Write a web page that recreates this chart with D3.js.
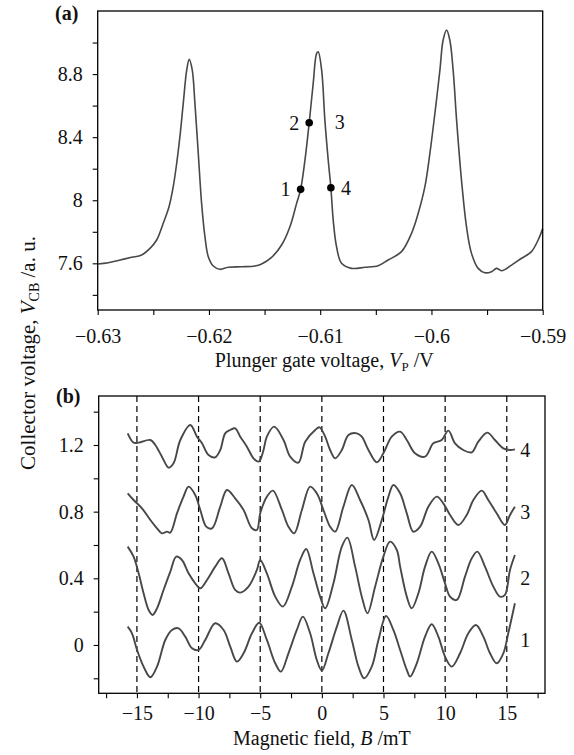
<!DOCTYPE html>
<html><head><meta charset="utf-8">
<script src="https://cdn.jsdelivr.net/npm/d3@7"></script>
<style>
html,body{margin:0;padding:0;background:#fff;}
svg{display:block;}
text{font-family:'Liberation Serif','DejaVu Serif',serif;fill:#111;}
</style>
</head><body>
<svg id="chart" width="574" height="755"></svg>
<script>
// ---------- Panel (a) data: collector voltage vs plunger gate voltage ----------
const gateVoltage = [-0.63000,-0.62905,-0.62800,-0.62695,-0.62605,-0.62530,-0.62470,-0.62411,-0.62359,-0.62321,-0.62290,-0.62261,-0.62231,-0.62200,-0.62177,-0.62150,-0.62126,-0.62096,-0.62066,-0.62036,-0.62006,-0.61961,-0.61901,-0.61827,-0.61706,-0.61587,-0.61527,-0.61437,-0.61347,-0.61272,-0.61212,-0.61176,-0.61137,-0.61099,-0.61063,-0.61032,-0.61018,-0.60987,-0.60958,-0.60928,-0.60904,-0.60883,-0.60853,-0.60808,-0.60718,-0.60598,-0.60479,-0.60389,-0.60269,-0.60179,-0.60119,-0.60059,-0.60014,-0.59969,-0.59924,-0.59895,-0.59864,-0.59835,-0.59805,-0.59774,-0.59730,-0.59685,-0.59640,-0.59580,-0.59520,-0.59460,-0.59415,-0.59370,-0.59280,-0.59190,-0.59101,-0.59041,-0.59000];
const collectorVoltage = [7.596,7.604,7.621,7.638,7.653,7.695,7.748,7.854,7.959,8.086,8.234,8.403,8.614,8.825,8.893,8.825,8.614,8.297,7.980,7.769,7.642,7.583,7.562,7.575,7.578,7.583,7.596,7.638,7.716,7.832,7.980,8.069,8.255,8.491,8.741,8.931,8.941,8.825,8.508,8.255,8.079,7.874,7.705,7.600,7.568,7.575,7.585,7.621,7.674,7.790,7.917,8.086,8.297,8.551,8.825,9.016,9.079,9.016,8.825,8.508,8.128,7.832,7.663,7.568,7.540,7.547,7.568,7.553,7.589,7.632,7.674,7.748,7.820];

// working points marked on the middle peak
const pointIds   = ["1","2","3","4"];
const pointGateV = [-0.61176,-0.61099,-0.60958,-0.60904];
const pointVcb   = [8.069,8.491,8.495,8.079];
const pointDot   = [true,true,false,true];
const pointSide  = ["left","left","right","right"];

// panel (a) ticks
const aXTicks  = [-0.63,-0.625,-0.62,-0.615,-0.61,-0.605,-0.6,-0.595,-0.59];
const aXLabels = [-0.63,-0.62,-0.61,-0.6,-0.59];
const aYTicks  = [7.4,7.6,7.8,8,8.2,8.4,8.6,8.8,9.0];
const aYLabels = [7.6,8,8.4,8.8];

// ---------- Panel (b) data: collector voltage vs magnetic field (offset traces) ----------
const trace1 = [[-15.75,0.11],[-15.40,0.07],[-14.99,-0.03],[-14.46,-0.13],[-13.91,-0.194],[-13.37,-0.13],[-12.70,0.03],[-12.16,0.09],[-11.62,0.10],[-11.08,0.05],[-10.53,-0.02],[-10.00,-0.03],[-9.46,0.03],[-8.65,0.13],[-7.97,0.09],[-7.43,-0.01],[-6.89,-0.10],[-6.35,-0.05],[-5.67,0.07],[-5.08,0.133],[-4.46,0.03],[-3.78,-0.11],[-3.32,-0.16],[-2.71,-0.05],[-2.03,0.09],[-1.54,0.17],[-0.95,0.07],[-0.41,-0.09],[0.00,-0.154],[0.53,-0.05],[1.22,0.11],[1.75,0.206],[2.43,0.03],[2.97,-0.13],[3.43,-0.20],[4.05,-0.13],[4.59,0.03],[5.21,0.174],[5.80,0.09],[6.35,-0.03],[6.89,-0.15],[7.16,-0.19],[7.70,-0.11],[8.37,0.05],[8.91,0.124],[9.45,0.05],[9.99,-0.07],[10.53,-0.13],[11.21,-0.05],[11.88,0.07],[12.50,0.12],[13.10,0.05],[13.64,-0.05],[14.18,-0.11],[14.72,-0.05],[15.12,0.07],[15.66,0.25]];
const trace2 = [[-15.75,0.59],[-15.27,0.53],[-14.86,0.43],[-14.46,0.31],[-14.05,0.21],[-13.73,0.18],[-13.37,0.22],[-12.84,0.33],[-12.29,0.44],[-11.81,0.53],[-11.35,0.51],[-10.81,0.43],[-10.27,0.37],[-9.86,0.34],[-9.32,0.39],[-8.65,0.47],[-8.10,0.52],[-7.57,0.43],[-7.03,0.33],[-6.62,0.314],[-5.95,0.35],[-5.27,0.45],[-5.00,0.51],[-4.46,0.43],[-3.78,0.29],[-3.16,0.23],[-2.43,0.35],[-1.76,0.51],[-1.27,0.576],[-0.68,0.43],[-0.14,0.29],[0.27,0.22],[0.94,0.37],[1.62,0.59],[2.07,0.644],[2.70,0.47],[3.24,0.29],[3.70,0.19],[4.32,0.35],[4.99,0.53],[5.53,0.62],[6.08,0.57],[6.35,0.47],[6.89,0.29],[7.29,0.22],[7.83,0.31],[8.37,0.47],[8.91,0.56],[9.45,0.49],[9.99,0.37],[10.40,0.29],[10.94,0.27],[11.61,0.41],[12.16,0.52],[12.61,0.56],[13.23,0.47],[13.91,0.35],[14.45,0.29],[14.85,0.30],[15.26,0.45],[15.66,0.54]];
const trace3 = [[-15.75,0.91],[-15.27,0.87],[-14.59,0.82],[-13.91,0.75],[-13.37,0.70],[-12.97,0.67],[-12.56,0.68],[-12.29,0.674],[-11.75,0.79],[-11.22,0.89],[-10.81,0.95],[-10.27,0.90],[-9.86,0.81],[-9.38,0.71],[-8.91,0.70],[-8.24,0.83],[-7.70,0.93],[-7.03,0.88],[-6.35,0.81],[-5.67,0.70],[-5.27,0.69],[-5.00,0.79],[-4.46,0.89],[-3.97,0.926],[-3.24,0.81],[-2.71,0.71],[-2.24,0.67],[-1.62,0.81],[-0.95,0.95],[-0.41,0.91],[0.13,0.81],[0.67,0.71],[1.08,0.68],[1.75,0.83],[2.43,0.96],[3.10,0.87],[3.78,0.75],[4.24,0.63],[4.86,0.75],[5.40,0.89],[5.80,0.96],[6.35,0.91],[6.89,0.79],[7.42,0.68],[7.97,0.71],[8.64,0.83],[9.32,0.89],[9.85,0.85],[10.40,0.78],[11.07,0.72],[11.75,0.78],[12.29,0.87],[12.97,0.926],[13.50,0.87],[14.18,0.79],[14.85,0.72],[15.26,0.78],[15.66,0.83]];
const trace4 = [[-15.75,1.27],[-15.27,1.214],[-14.86,1.214],[-13.91,1.23],[-13.51,1.20],[-12.97,1.13],[-12.43,1.064],[-12.03,1.09],[-11.48,1.23],[-10.67,1.32],[-10.13,1.25],[-9.72,1.21],[-9.19,1.14],[-8.65,1.126],[-8.24,1.17],[-7.84,1.27],[-7.43,1.29],[-7.03,1.30],[-6.62,1.25],[-6.08,1.19],[-5.54,1.12],[-5.14,1.10],[-5.00,1.11],[-4.73,1.17],[-4.46,1.25],[-3.87,1.31],[-3.11,1.23],[-2.57,1.13],[-1.90,1.094],[-1.35,1.22],[-0.54,1.29],[-0.19,1.306],[0.27,1.25],[0.67,1.17],[1.08,1.12],[1.62,1.17],[2.16,1.26],[2.84,1.27],[3.24,1.25],[3.78,1.17],[4.46,1.096],[4.99,1.15],[5.67,1.25],[6.35,1.28],[6.89,1.23],[7.56,1.15],[8.37,1.13],[9.04,1.21],[9.72,1.23],[10.26,1.286],[10.80,1.21],[11.47,1.17],[12.16,1.156],[12.69,1.22],[13.42,1.274],[14.04,1.23],[14.72,1.18],[15.26,1.17],[15.66,1.174]];
const traceNames  = ["1","2","3","4"];
const traceLevels = [0.03,0.40,0.80,1.17];
const dashedFields = [-15,-10,-5,0,5,10,15];

// panel (b) ticks
const bXTicks  = [-17.5,-15,-12.5,-10,-7.5,-5,-2.5,0,2.5,5,7.5,10,12.5,15,17.5];
const bXLabels = [-15,-10,-5,0,5,10,15];
const bYTicks  = [-0.2,0,0.2,0.4,0.6,0.8,1.0,1.2,1.4];
const bYLabels = [0,0.4,0.8,1.2];

// ---------- drawing ----------
const svg = d3.select("#chart");
const FS = 20;
const FONT = "'Liberation Serif','DejaVu Serif',serif";
const fmt = d => String(+d.toFixed(3)).replace("-", "\u2212");
const curveColor = "#484848";

function styleAxis(g) {
  g.select(".domain").remove();
  g.attr("font-family", null).attr("font-size", null);
  g.selectAll(".tick line").attr("stroke", "#000").attr("stroke-width", 1.1);
  g.selectAll(".tick text").attr("font-size", FS).attr("fill", "#111").style("font-family", FONT);
}

// ===== Panel (a) =====
const ax = d3.scaleLinear().domain([-0.63, -0.59]).range([97.7, 542.7]);
const ay = d3.scaleLinear().domain([7.304, 9.2]).range([310, 11]);

svg.append("g").attr("transform", `translate(0,${ay.range()[0]})`)
  .call(d3.axisBottom(ax).tickValues(aXTicks).tickSize(5).tickPadding(14)
    .tickFormat(d => aXLabels.some(l => Math.abs(l - d) < 1e-9) ? fmt(d) : ""))
  .call(styleAxis);
svg.append("g").attr("transform", `translate(${ax.range()[0]},0)`)
  .call(d3.axisLeft(ay).tickValues(aYTicks).tickSize(5).tickPadding(10)
    .tickFormat(d => aYLabels.some(l => Math.abs(l - d) < 1e-9) ? fmt(d) : ""))
  .call(styleAxis);

const aData = gateVoltage.map((v, i) => [v, collectorVoltage[i]]);
svg.append("path").datum(aData)
  .attr("fill", "none").attr("stroke", curveColor).attr("stroke-width", 1.6)
  .attr("stroke-linejoin", "round")
  .attr("d", d3.line().x(d => ax(d[0])).y(d => ay(d[1])).curve(d3.curveCatmullRom.alpha(0.5)));

svg.append("rect")
  .attr("x", ax.range()[0]).attr("y", ay.range()[1])
  .attr("width", ax.range()[1] - ax.range()[0]).attr("height", ay.range()[0] - ay.range()[1])
  .attr("fill", "none").attr("stroke", "#000").attr("stroke-width", 1.3);

pointIds.forEach((id, i) => {
  const px = ax(pointGateV[i]), py = ay(pointVcb[i]);
  if (pointDot[i]) svg.append("circle").attr("cx", px).attr("cy", py).attr("r", 3.8).attr("fill", "#000");
  svg.append("text").attr("x", pointSide[i] === "left" ? px - 10 : px + 10).attr("y", py)
    .attr("text-anchor", pointSide[i] === "left" ? "end" : "start")
    .attr("dominant-baseline", "central").attr("font-size", FS).text(id);
});

// x title (a)
const ta = svg.append("text").attr("x", (ax.range()[0] + ax.range()[1]) / 2 + 4).attr("y", 367)
  .attr("text-anchor", "middle").attr("font-size", FS);
ta.append("tspan").text("Plunger gate voltage, ");
ta.append("tspan").attr("font-style", "italic").text("V");
ta.append("tspan").attr("font-size", 13).attr("dy", 4).text("P");
ta.append("tspan").attr("dy", -4).text(" /V");

svg.append("text").attr("x", 55).attr("y", 20).attr("font-size", FS).attr("font-weight", "bold").text("(a)");

// ===== Panel (b) =====
const bx = d3.scaleLinear().domain([-18.1, 18.1]).range([98.7, 545]);
const by = d3.scaleLinear().domain([-0.29, 1.494]).range([693.3, 396]);

svg.append("g").attr("transform", `translate(0,${by.range()[0]})`)
  .call(d3.axisBottom(bx).tickValues(bXTicks).tickSize(5).tickPadding(7.5)
    .tickFormat(d => bXLabels.includes(d) ? fmt(d) : ""))
  .call(styleAxis);
svg.append("g").attr("transform", `translate(${bx.range()[0]},0)`)
  .call(d3.axisLeft(by).tickValues(bYTicks).tickSize(5).tickPadding(10)
    .tickFormat(d => bYLabels.some(l => Math.abs(l - d) < 1e-9) ? fmt(d) : ""))
  .call(styleAxis);

svg.append("g").selectAll("line").data(dashedFields).join("line")
  .attr("x1", d => bx(d)).attr("x2", d => bx(d))
  .attr("y1", by.range()[1]).attr("y2", by.range()[0])
  .attr("stroke", "#000").attr("stroke-width", 1.2).attr("stroke-dasharray", "6,4");

const bLine = d3.line().x(d => bx(d[0])).y(d => by(d[1])).curve(d3.curveCatmullRom.alpha(0.5));
svg.append("g").selectAll("path").data([trace1, trace2, trace3, trace4]).join("path")
  .attr("fill", "none").attr("stroke", curveColor).attr("stroke-width", 1.9)
  .attr("stroke-linejoin", "round").attr("d", bLine);

svg.append("rect")
  .attr("x", bx.range()[0]).attr("y", by.range()[1])
  .attr("width", bx.range()[1] - bx.range()[0]).attr("height", by.range()[0] - by.range()[1])
  .attr("fill", "none").attr("stroke", "#000").attr("stroke-width", 1.3);

svg.append("g").selectAll("text").data(traceNames).join("text")
  .attr("x", bx(16.1)).attr("y", (d, i) => by(traceLevels[i]))
  .attr("dominant-baseline", "central").attr("font-size", FS).text(d => d);

const tb = svg.append("text").attr("x", (bx.range()[0] + bx.range()[1]) / 2).attr("y", 745)
  .attr("text-anchor", "middle").attr("font-size", FS);
tb.append("tspan").text("Magnetic field, ");
tb.append("tspan").attr("font-style", "italic").text("B");
tb.append("tspan").text(" /mT");

svg.append("text").attr("x", 56).attr("y", 403).attr("font-size", FS).attr("font-weight", "bold").text("(b)");

// shared y title
const ty = svg.append("text").attr("transform", "translate(35,353) rotate(-90)")
  .attr("text-anchor", "middle").attr("font-size", 21);
ty.append("tspan").text("Collector voltage, ");
ty.append("tspan").attr("font-style", "italic").text("V");
ty.append("tspan").attr("font-size", 14).attr("dy", 4).text("CB");
ty.append("tspan").attr("dy", -4).text(" /a. u.");
</script>
</body></html>
